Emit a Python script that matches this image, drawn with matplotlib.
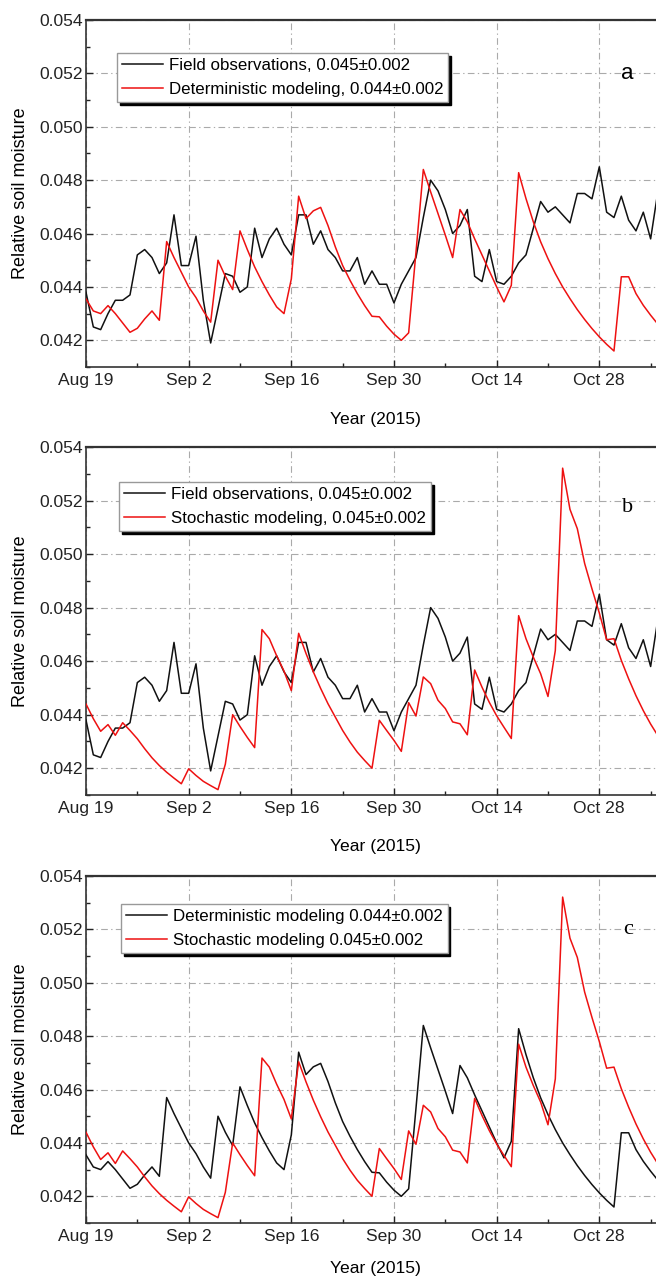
import numpy as np
import matplotlib
matplotlib.use('Agg')
import matplotlib.pyplot as plt
import matplotlib.dates as mdates
from matplotlib.ticker import MultipleLocator, FixedLocator

plt.rcParams['font.family'] = ['Liberation Sans', 'DejaVu Sans']

# daily relative soil moisture, starting 2015-08-19
start = '2015-08-19'

field_obs = [
    0.0438, 0.0425, 0.0424, 0.0430, 0.0435, 0.0435, 0.0437, 0.0452, 0.0454, 0.0451,
    0.0445, 0.0449, 0.0467, 0.0448, 0.0448, 0.0459, 0.0435, 0.0419, 0.0432, 0.0445,
    0.0444, 0.0438, 0.0440, 0.0462, 0.0451, 0.0458, 0.0462, 0.0456, 0.0452, 0.0467,
    0.0467, 0.0456, 0.0461, 0.0454, 0.0451, 0.0446, 0.0446, 0.0451, 0.0441, 0.0446,
    0.0441, 0.0441, 0.0434, 0.0441, 0.0446, 0.0451, 0.0466, 0.0480, 0.0476, 0.0469,
    0.0460, 0.0463, 0.0469, 0.0444, 0.0442, 0.0454, 0.0442, 0.0441, 0.0444, 0.0449,
    0.0452, 0.0462, 0.0472, 0.0468, 0.0470, 0.0467, 0.0464, 0.0475, 0.0475, 0.0473,
    0.0485, 0.0468, 0.0466, 0.0474, 0.0465, 0.0461, 0.0468, 0.0458, 0.0476,
]

deterministic = [
    0.04355, 0.0431, 0.0430, 0.0433, 0.0430, 0.04265, 0.0423, 0.04245, 0.0428, 0.0431,
    0.04275, 0.0457, 0.0451, 0.04455, 0.0440, 0.0436, 0.0431, 0.04268, 0.0450, 0.0444,
    0.0439, 0.0461, 0.0454, 0.04475, 0.0442, 0.0437, 0.04325, 0.0430, 0.0443, 0.0474,
    0.04656, 0.04685, 0.04698, 0.0463, 0.0455, 0.0448, 0.04425, 0.04375, 0.0433, 0.0429,
    0.04288, 0.04253, 0.04223, 0.0420, 0.04228, 0.0453, 0.0484, 0.04756, 0.04675, 0.04594,
    0.0451, 0.0469, 0.04644, 0.0458, 0.0452, 0.0446, 0.0440, 0.04344, 0.04406, 0.04828,
    0.04731, 0.04644, 0.04569, 0.04506, 0.0445, 0.0440, 0.04356, 0.04315, 0.04278, 0.04244,
    0.04213, 0.04185, 0.0416, 0.04438, 0.04438, 0.04375, 0.04331, 0.04294, 0.0426,
]

stochastic = [
    0.0444, 0.04385, 0.04338, 0.04363, 0.04323, 0.0437, 0.04341, 0.0431, 0.04273, 0.04239,
    0.0421, 0.04185, 0.04163, 0.04142, 0.04198, 0.04173, 0.04151, 0.04135, 0.0412, 0.04215,
    0.0440, 0.04356, 0.04315, 0.04277, 0.04718, 0.04684, 0.0462, 0.04563, 0.0449, 0.04704,
    0.04629, 0.0456, 0.04498, 0.04441, 0.04391, 0.04341, 0.04298, 0.0426, 0.04229, 0.0420,
    0.04379, 0.04341, 0.04304, 0.04263, 0.04445, 0.04395, 0.04541, 0.04516, 0.04454, 0.04423,
    0.04373, 0.04366, 0.04325, 0.04567, 0.04503, 0.04446, 0.04396, 0.04353, 0.04311, 0.0477,
    0.04684, 0.04615, 0.04553, 0.04468, 0.0464, 0.05321, 0.05167, 0.05095, 0.04965, 0.0487,
    0.0478, 0.0468, 0.04684, 0.04603, 0.04534, 0.04471, 0.04415, 0.04365, 0.04321,
]

tick_labels = ['Aug 19', 'Sep 2', 'Sep 16', 'Sep 30', 'Oct 14', 'Oct 28']

dates = np.datetime64(start) + np.arange(len(field_obs))
x = mdates.date2num(dates)
x0 = x[0]

W, H = 656, 1282
fig = plt.figure(figsize=(W / 100, H / 100), dpi=100)

# letter, black series, red series, legend labels, letter font,
# axes top/bottom px, legend left/top px, letter y px, xlabel gap px
panels = [
    ('a', field_obs, deterministic,
     'Field observations, 0.045\u00b10.002', 'Deterministic modeling, 0.044\u00b10.002',
     'Liberation Sans', 20, 367, 117, 53, 73, 45),
    ('b', field_obs, stochastic,
     'Field observations, 0.045\u00b10.002', 'Stochastic modeling, 0.045\u00b10.002',
     'Liberation Serif', 447, 795, 119, 482, 507, 44),
    ('c', deterministic, stochastic,
     'Deterministic modeling 0.044\u00b10.002', 'Stochastic modeling 0.045\u00b10.002',
     'Liberation Serif', 876, 1223, 121, 904, 930, 38),
]

left_px, right_px = 86, 666
days_span = (right_px - left_px) / 7.333

for letter, ys_k, ys_r, lab_k, lab_r, letter_font, top, bot, lg_x, lg_y, let_y, xl_gap in panels:
    ax = fig.add_axes([left_px / W, 1 - bot / H, (right_px - left_px) / W, (bot - top) / H])
    ax.plot(x, ys_k, color='#111111', lw=1.1, label=lab_k, zorder=3)
    ax.plot(x, ys_r, color='#ee1111', lw=1.1, label=lab_r, zorder=3)

    ax.set_xlim(x0, x0 + days_span)
    ax.set_ylim(0.041, 0.054)
    ax.xaxis.set_major_locator(FixedLocator(x0 + 14 * np.arange(len(tick_labels))))
    ax.set_xticklabels(tick_labels)
    ax.xaxis.set_minor_locator(FixedLocator(x0 + 7 + 14 * np.arange(len(tick_labels))))
    ax.yaxis.set_major_locator(MultipleLocator(0.002))
    ax.yaxis.set_minor_locator(MultipleLocator(0.001))
    ax.yaxis.set_major_formatter(matplotlib.ticker.FormatStrFormatter('%.3f'))

    ax.tick_params(which='both', direction='in', labelsize=12.6, colors='#222222')
    ax.tick_params(which='major', length=5, width=1)
    ax.tick_params(which='minor', length=3, width=1)
    ax.tick_params(axis='y', pad=2.5)
    ax.tick_params(axis='x', pad=4)

    ax.grid(True, which='major', color='#aaaaaa', lw=0.8,
            linestyle=(0, (6, 3, 1.2, 3)))
    for s in ax.spines.values():
        s.set_color('#333333')
        s.set_linewidth(1.2)
    ax.spines['top'].set_linewidth(1.6)

    ax.set_ylabel('Relative soil moisture', fontsize=13)
    ax.yaxis.set_label_coords(-0.098, 0.5)
    ax.set_xlabel('Year (2015)', fontsize=12.6)
    ax.xaxis.set_label_coords(0.5, -xl_gap / (bot - top))

    leg = ax.legend(loc='upper left',
                    bbox_to_anchor=((lg_x - left_px) / (right_px - left_px), (bot - lg_y) / (bot - top)),
                    borderaxespad=0, fontsize=12.2, handlelength=2.4, handletextpad=0.35,
                    borderpad=0.3, labelspacing=0.55, fancybox=False,
                    shadow={'color': 'k', 'alpha': 1}, framealpha=1)
    leg.get_frame().set_edgecolor('#999999')
    leg.get_frame().set_linewidth(1.0)

    ax.text(0.934, (bot - let_y) / (bot - top), letter, transform=ax.transAxes,
            ha='center', va='center', fontsize=16, family=letter_font)

fig.savefig('out.png', dpi=100)
